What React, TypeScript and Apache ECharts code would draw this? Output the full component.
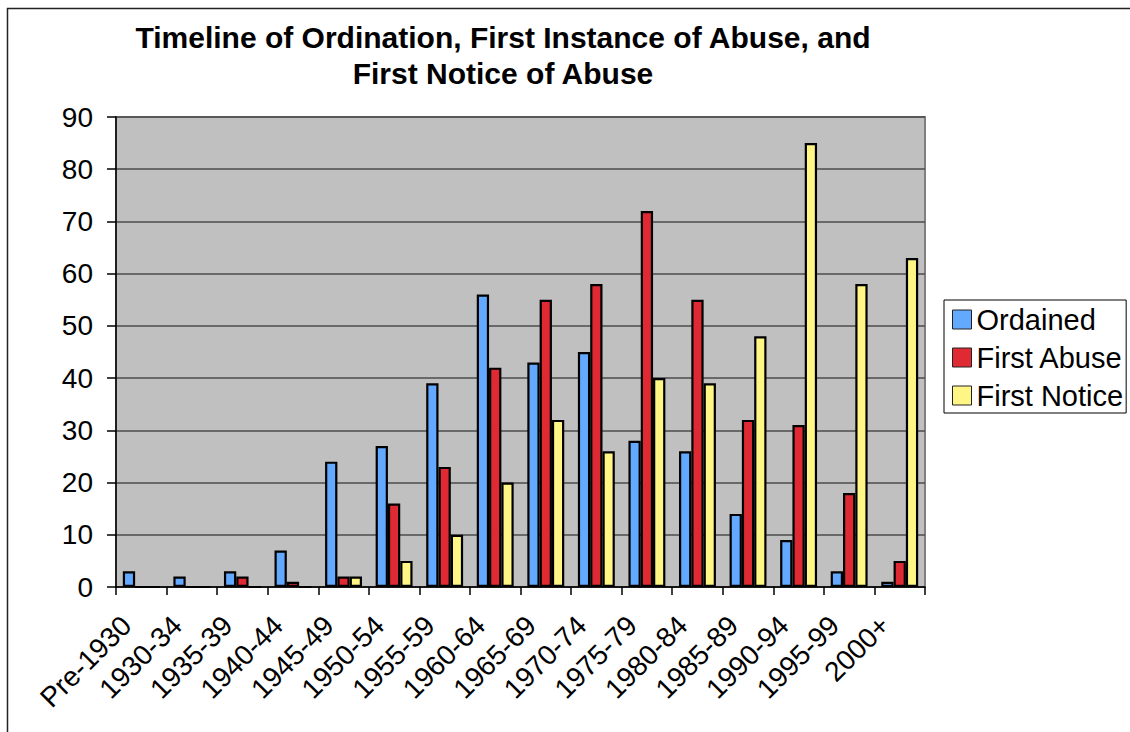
import React, { useEffect, useRef } from "react";
import * as echarts from "echarts";

const categories = [
  "Pre-1930", "1930-34", "1935-39", "1940-44", "1945-49", "1950-54", "1955-59", "1960-64",
  "1965-69", "1970-74", "1975-79", "1980-84", "1985-89", "1990-94", "1995-99", "2000+",
];
const ordained = [3, 2, 3, 7, 24, 27, 39, 56, 43, 45, 28, 26, 14, 9, 3, 1];
const firstAbuse = [0, 0, 2, 1, 2, 16, 23, 42, 55, 58, 72, 55, 32, 31, 18, 5];
const firstNotice = [0, 0, 0, 0, 2, 5, 10, 20, 32, 26, 40, 39, 48, 85, 58, 63];
const titleLines = ["Timeline of Ordination, First Instance of Abuse, and", "First Notice of Abuse"];

const FONT = '"Liberation Sans", Arial, sans-serif';

export default function App() {
  const ref = useRef<HTMLDivElement>(null);
  useEffect(() => {
    if (!ref.current) return;
    const chart = echarts.init(ref.current, null, { renderer: "svg" });
    const mk = (name: string, data: number[], color: string) => ({
      name,
      type: "bar",
      data,
      barGap: "0%",
      barCategoryGap: "27%",
      itemStyle: { color, borderColor: "#000", borderWidth: 2.2 },
    });
    const titleText = (text: string, y: number) => ({
      type: "text",
      x: 503,
      y,
      style: {
        text,
        fontFamily: FONT,
        fontSize: 30,
        fontWeight: "bold",
        fill: "#000",
        align: "center",
        verticalAlign: "middle",
      },
    });
    chart.setOption({
      animation: false,
      backgroundColor: "#fff",
      textStyle: { fontFamily: FONT },
      graphic: [
        {
          type: "rect",
          shape: { x: 7.5, y: 8.5, width: 1200, height: 800 },
          style: { fill: "none", stroke: "#222", lineWidth: 1.5 },
          silent: true,
        },
        titleText(titleLines[0], 37),
        titleText(titleLines[1], 73),
      ],
      grid: {
        left: 116,
        top: 117,
        width: 809,
        height: 470,
        show: true,
        backgroundColor: "#C0C0C0",
        borderColor: "#808080",
        borderWidth: 2,
        containLabel: false,
      },
      legend: {
        orient: "vertical",
        left: 944,
        top: 300,
        padding: [5, 3, 3, 8],
        itemWidth: 19,
        itemHeight: 19,
        itemGap: 9,
        icon: "rect",
        borderColor: "#000",
        borderWidth: 1,
        backgroundColor: "#fff",
        itemStyle: { borderColor: "#222", borderWidth: 1 },
        textStyle: { fontSize: 29, color: "#000", fontFamily: FONT },
        data: ["Ordained", "First Abuse", "First Notice"],
      },
      xAxis: {
        type: "category",
        data: categories,
        boundaryGap: true,
        axisLine: { show: true, lineStyle: { color: "#000", width: 1.5 } },
        axisTick: { show: true, length: 8, interval: 0, alignWithLabel: false, lineStyle: { color: "#000", width: 1.5 } },
        axisLabel: {
          interval: 0,
          rotate: 45,
          fontSize: 28,
          color: "#000",
          fontFamily: FONT,
          margin: 19,
          padding: [0, 21, 0, 0],
        },
      },
      yAxis: {
        type: "value",
        min: 0,
        max: 90,
        interval: 10,
        axisLine: { show: true, lineStyle: { color: "#000", width: 1.5 } },
        axisTick: { show: true, length: 9, lineStyle: { color: "#000", width: 1.5 } },
        axisLabel: { fontSize: 28, color: "#000", fontFamily: FONT, margin: 23 },
        splitLine: { show: true, lineStyle: { color: "#4d4d4d", width: 1.5 } },
      },
      series: [
        mk("Ordained", ordained, "#63A9FF"),
        mk("First Abuse", firstAbuse, "#E02A33"),
        mk("First Notice", firstNotice, "#FFF685"),
      ],
    });
    return () => chart.dispose();
  }, []);
  return (
    <div
      ref={ref}
      style={{ position: "fixed", left: 0, top: 0, width: 1130, height: 732 }}
    />
  );
}
